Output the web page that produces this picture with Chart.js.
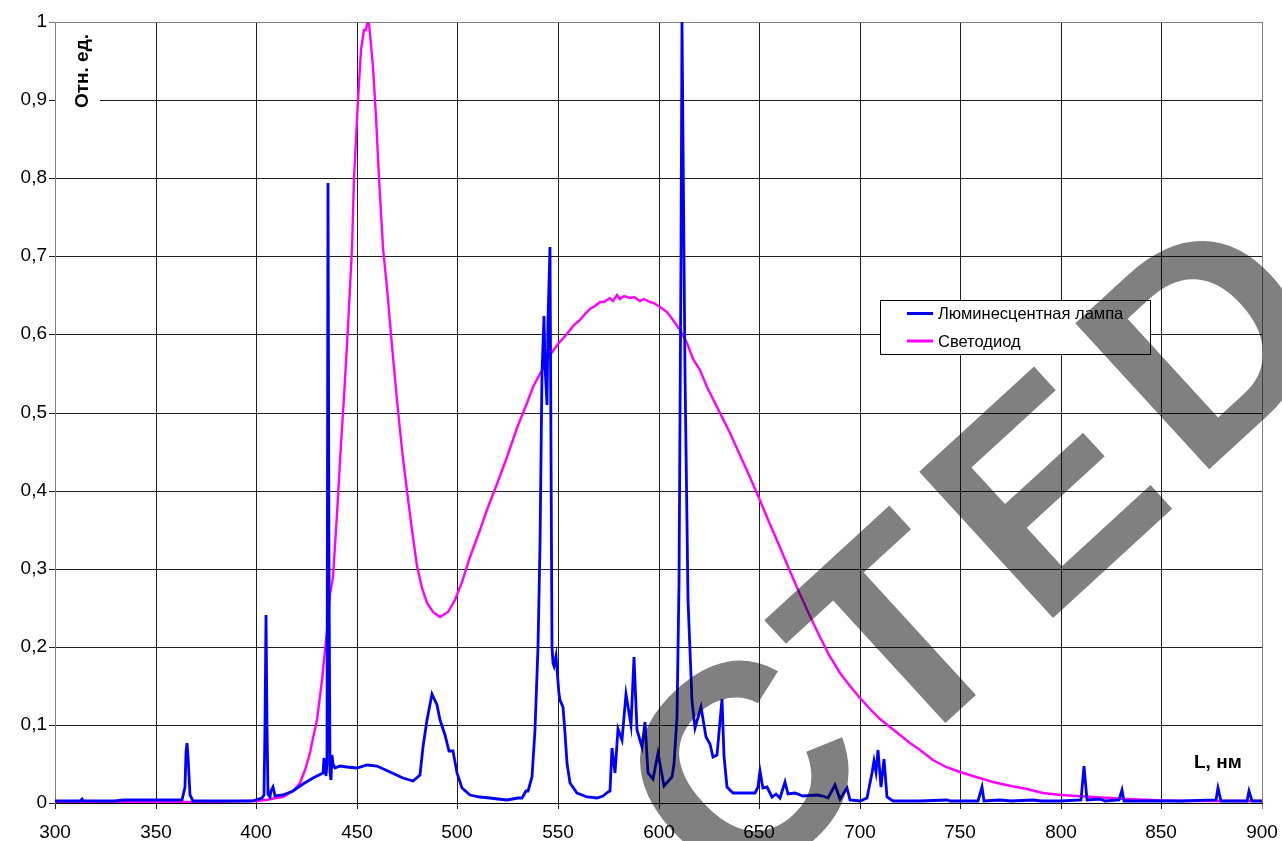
<!DOCTYPE html>
<html><head><meta charset="utf-8">
<script src="https://cdn.jsdelivr.net/npm/chart.js@4/dist/chart.umd.min.js"></script>
<style>html,body{margin:0;padding:0;background:#fff;overflow:hidden}#wrap{width:1282px;height:841px;position:relative}</style>
</head><body><div id="wrap"><canvas id="c" width="1282" height="841"></canvas></div>
<script>
// ---- data (wavelength, nm / relative units) ----
const lampX = [300,305,310,312.5,313.3,314,320,330,334,340,350,355,360,363,364.5,365.2,365.6,366.2,367,368.7,375,380,385,390,398,402.7,404,404.5,404.9,405.4,406,406.9,407.6,408.2,408.8,409.4,413.5,418.5,423.5,428.4,433.1,433.9,434.5,435.0,435.5,436.0,436.5,437.3,437.8,438.4,439.2,441.7,445,449.9,454.9,459.9,466.5,473.1,478.1,481.4,483.1,484.8,487.3,489.7,491.4,493.9,495.9,497.7,499.7,502.2,506.3,511.3,516,520.4,524.5,530,532.0,534.0,535.3,537.0,538.6,540,541.1,542.2,543.1,543.8,544.6,545.3,545.9,546.5,547.0,547.4,548.2,549.2,550.3,551.2,552.7,553.5,554.4,556.0,559.3,564.3,569.3,572.5,575.0,575.9,577.0,578.4,580.0,581.7,583.8,586.2,587.8,589.5,591.6,593.3,594.9,597.4,599.9,602.9,606.6,607.8,609.0,610.2,611.0,611.7,612.4,613.3,614.8,616.5,618.1,621.0,623.6,625.6,627.2,628.9,631.4,632.6,633.9,637.2,643.8,648.0,649.5,650.4,651.3,652.1,653.8,656.3,658.4,660.4,662.9,664.5,667.8,672.0,678.6,681.9,684.4,687.7,690.2,693.8,695.2,700.1,703.5,706.0,707.1,708.1,709.2,710.6,712.1,713.7,716.7,730,743.2,745,759,760.6,762,769.8,775,786,790,800,810,811.7,813,819.5,822,829,830.2,831.5,840,860,877,878.3,879.6,892.3,893.5,894.8,900];
const lampY = [0.002,0.002,0.002,0.002,0.005,0.002,0.002,0.003,0.004,0.004,0.004,0.004,0.004,0.004,0.02,0.065,0.077,0.06,0.01,0.003,0.003,0.003,0.002,0.003,0.003,0.006,0.01,0.1,0.241,0.1,0.012,0.008,0.015,0.021,0.015,0.009,0.01,0.015,0.024,0.032,0.038,0.058,0.035,0.05,0.794,0.3,0.04,0.029,0.062,0.05,0.045,0.047,0.046,0.045,0.049,0.047,0.040,0.032,0.028,0.036,0.072,0.106,0.139,0.126,0.106,0.087,0.066,0.066,0.038,0.019,0.010,0.008,0.007,0.005,0.004,0.006,0.007,0.016,0.015,0.033,0.093,0.2,0.33,0.55,0.624,0.56,0.51,0.62,0.712,0.45,0.2,0.179,0.176,0.188,0.14,0.132,0.123,0.09,0.051,0.026,0.013,0.008,0.006,0.009,0.014,0.015,0.070,0.038,0.095,0.081,0.140,0.10,0.187,0.093,0.072,0.104,0.038,0.031,0.064,0.022,0.033,0.05,0.11,0.28,0.7,1.0,0.85,0.55,0.26,0.13,0.096,0.123,0.085,0.075,0.059,0.061,0.133,0.06,0.021,0.013,0.013,0.013,0.02,0.041,0.025,0.019,0.02,0.008,0.011,0.006,0.027,0.011,0.013,0.009,0.010,0.009,0.006,0.023,0.005,0.019,0.004,0.002,0.006,0.038,0.054,0.04,0.068,0.021,0.056,0.008,0.002,0.002,0.004,0.002,0.003,0.021,0.003,0.004,0.002,0.004,0.002,0.002,0.004,0.048,0.004,0.005,0.002,0.004,0.017,0.003,0.002,0.002,0.004,0.019,0.003,0.003,0.016,0.003,0.002];

const ledX = [300,320,350,380,395,400,405,410,413.5,418.5,421.8,424.5,426.8,428.5,430.1,432.6,435.1,436.7,438,440,442,443.5,445.5,447.5,448.8,450.8,452.1,453.5,454.5,455.2,456,456.8,457.9,459.6,461.2,463.2,465,467.5,469.9,472.3,474.8,477.3,479.8,482.3,484.8,488.1,491.4,495.5,498.8,502.2,506.3,511.3,515.4,519.6,524.5,529.5,534.5,537.8,542,546.1,550,554.4,558,561,563.5,566,568.5,570.9,573,575.9,577.5,579.2,581,583,585.8,588,590.8,593,595.8,598,600.7,604.1,607.4,610.7,614.0,617.3,620.6,624,628.9,632,635.5,640,645,650,655,660,665,670,675,680,685,690,695,700,705,710,715,720,725,730,736.6,743,750,758,766.4,775,783,791,800,808,816,825,833,845,858,870,882,900];
const ledY = [0.001,0.001,0.001,0.001,0.002,0.003,0.004,0.006,0.008,0.015,0.026,0.042,0.064,0.083,0.106,0.157,0.22,0.268,0.29,0.37,0.46,0.52,0.61,0.71,0.80,0.90,0.964,0.99,0.99,0.998,0.998,0.985,0.943,0.879,0.80,0.71,0.66,0.585,0.516,0.452,0.40,0.35,0.303,0.275,0.256,0.244,0.238,0.245,0.26,0.283,0.315,0.35,0.379,0.409,0.443,0.48,0.512,0.533,0.555,0.574,0.588,0.601,0.612,0.618,0.626,0.633,0.637,0.642,0.641,0.646,0.643,0.650,0.645,0.649,0.646,0.648,0.643,0.645,0.641,0.64,0.635,0.629,0.619,0.606,0.589,0.569,0.554,0.533,0.507,0.492,0.474,0.448,0.42,0.39,0.36,0.33,0.30,0.27,0.242,0.215,0.19,0.167,0.15,0.134,0.12,0.108,0.097,0.087,0.077,0.068,0.055,0.046,0.040,0.033,0.027,0.022,0.0175,0.013,0.010,0.0085,0.0073,0.0063,0.0055,0.004,0.003,0.0025,0.002,0.002];

const seriesNames = ['Люминесцентная лампа', 'Светодиод'];
const seriesColors = ['#0000ff', '#ff00ff'];
const xTickValues = [300,350,400,450,500,550,600,650,700,750,800,850,900];
const yTickValues = [0,0.1,0.2,0.3,0.4,0.5,0.6,0.7,0.8,0.9,1];
const yTitle = 'Отн. ед.';
const xTitle = 'L, нм';
const watermarkLetters = ['C', 'T', 'E', 'D'];

const toPts = (xs, ys) => xs.map((x, i) => ({x: x, y: ys[i]}));
const fmt = v => String(Math.round(v * 10) / 10).replace('.', ',');
const FONT = '"Liberation Sans", Arial, sans-serif';

const decor = {
  id: 'decor',
  afterDraw(chart) {
    const ctx = chart.ctx;
    ctx.save();
    // y-axis title with white background
    ctx.fillStyle = '#fff';
    ctx.fillRect(56, 26, 44, 92);
    ctx.fillStyle = '#000';
    ctx.font = 'bold 19px ' + FONT;
    ctx.save();
    ctx.translate(88, 71);
    ctx.rotate(-Math.PI / 2);
    ctx.textAlign = 'center';
    ctx.textBaseline = 'alphabetic';
    ctx.fillText(yTitle, 0, 0);
    ctx.restore();
    // x-axis title
    ctx.textAlign = 'left';
    ctx.textBaseline = 'alphabetic';
    ctx.fillText(xTitle, 1194, 768);
    // legend
    ctx.fillStyle = '#fff';
    ctx.fillRect(880, 300, 270, 54);
    ctx.strokeStyle = '#000';
    ctx.lineWidth = 1;
    ctx.strokeRect(880.5, 300.5, 270, 54);
    ctx.font = '16.5px ' + FONT;
    ctx.textBaseline = 'middle';
    const rows = [313.5, 341];
    seriesNames.forEach((n, i) => {
      ctx.strokeStyle = seriesColors[i];
      ctx.lineWidth = 3;
      ctx.beginPath();
      ctx.moveTo(907, rows[i]);
      ctx.lineTo(933, rows[i]);
      ctx.stroke();
      ctx.fillStyle = '#000';
      ctx.fillText(n, 938, rows[i] + 1);
    });
    // watermark
    ctx.globalCompositeOperation = 'multiply';
    ctx.fillStyle = '#808080';
    const S = 288;
    ctx.font = 'bold ' + S + 'px ' + FONT;
    ctx.textAlign = 'center';
    ctx.textBaseline = 'alphabetic';
    const centers = [[738, 766], [891, 633], [1040, 490], [1202, 336]];
    watermarkLetters.forEach((L, i) => {
      ctx.save();
      ctx.translate(centers[i][0], centers[i][1]);
      ctx.rotate(-42.5 * Math.PI / 180);
      ctx.fillText(L, 0, 0.358 * S);
      ctx.restore();
    });
    ctx.restore();
  }
};

new Chart(document.getElementById('c'), {
  type: 'line',
  data: {
    datasets: [
      {label: seriesNames[0], data: toPts(lampX, lampY), borderColor: seriesColors[0], borderWidth: 2.8, pointRadius: 0, tension: 0, fill: false},
      {label: seriesNames[1], data: toPts(ledX, ledY), borderColor: seriesColors[1], borderWidth: 2.4, pointRadius: 0, tension: 0, fill: false}
    ]
  },
  options: {
    responsive: false,
    animation: false,
    devicePixelRatio: 1,
    layout: {padding: {left: 0, right: 20, top: 22, bottom: 0}},
    plugins: {legend: {display: false}, tooltip: {enabled: false}},
    scales: {
      x: {
        type: 'linear', min: 300, max: 900, alignToPixels: true,
        afterBuildTicks: s => { s.ticks = xTickValues.map(v => ({value: v})); },
        afterFit: s => { s.height = 38; s.paddingRight = 0; s.paddingLeft = 0; },
        ticks: {color: '#000', font: {size: 19, family: FONT}, padding: 12, maxRotation: 0, autoSkip: false, callback: v => String(v)},
        grid: {color: c => (c.tick && c.tick.value === 900 ? '#808080' : '#1e1e1e'), lineWidth: 1, tickLength: 6, drawTicks: true},
        border: {display: true, color: '#000', width: 1}
      },
      y: {
        type: 'linear', min: 0, max: 1, alignToPixels: true,
        afterBuildTicks: s => { s.ticks = yTickValues.map(v => ({value: v})); },
        afterFit: s => { s.width = 55; s.paddingTop = 0; s.paddingBottom = 0; },
        ticks: {color: '#000', font: {size: 19, family: FONT}, padding: 2, autoSkip: false, callback: v => fmt(v)},
        grid: {color: c => (c.tick && c.tick.value === 1 ? '#808080' : '#1e1e1e'), lineWidth: 1, tickLength: 6, drawTicks: true},
        border: {display: true, color: '#808080', width: 1}
      }
    }
  },
  plugins: [decor]
});
</script>
</body></html>
